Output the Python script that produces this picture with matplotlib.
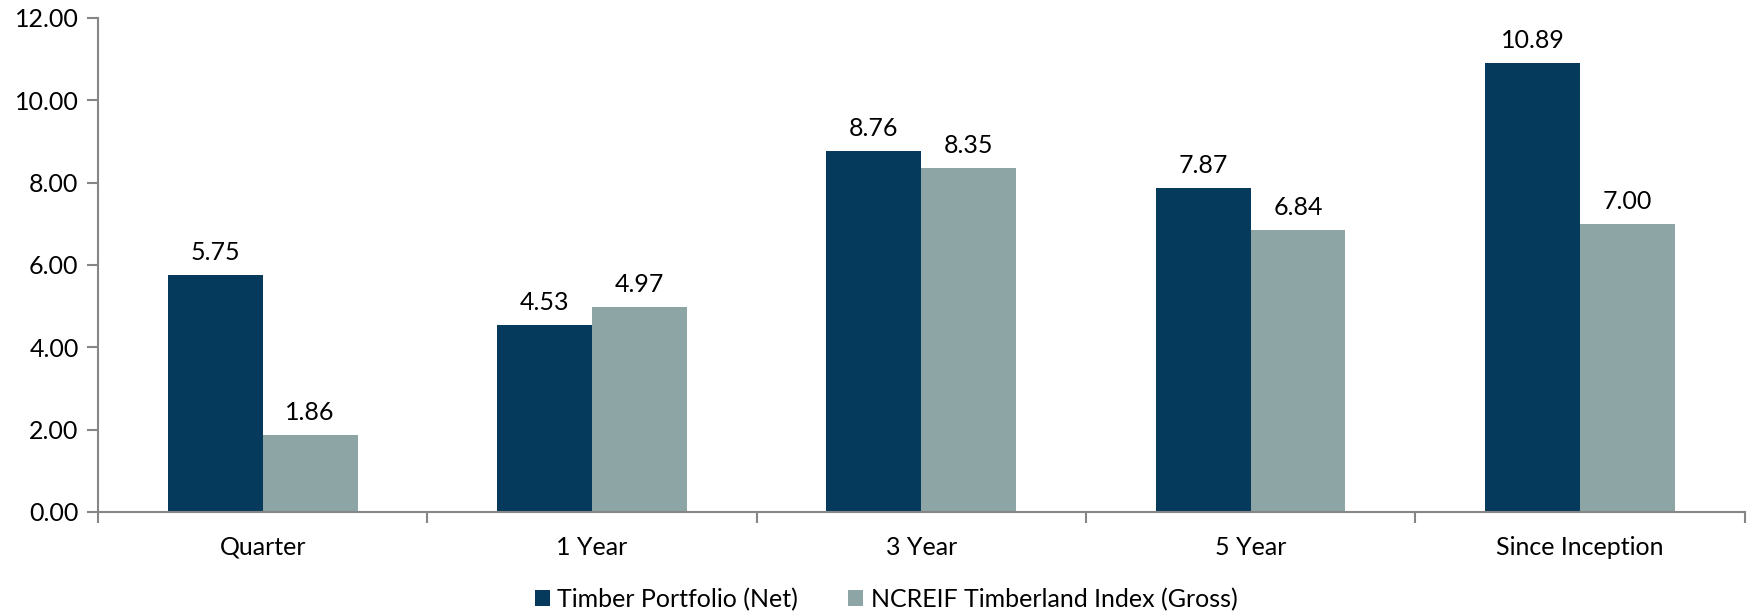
import matplotlib
matplotlib.use('Agg')
from matplotlib import pyplot as plt
from matplotlib.ticker import FormatStrFormatter, FixedLocator
import numpy as np

# Chart data
categories = ['Quarter', '1 Year', '3 Year', '5 Year', 'Since Inception']
portfolio = [5.75, 4.53, 8.76, 7.87, 10.89]
ncreif = [1.86, 4.97, 8.35, 6.84, 7.00]
series_names = ['Timber Portfolio (Net)', 'NCREIF Timberland Index (Gross)']

dark = '#063A5C'
light = '#8DA5A5'
axis_col = '#868686'

plt.rcParams['font.family'] = ['Lato', 'DejaVu Sans']
fs = 18

fig = plt.figure(figsize=(17.48, 6.13), dpi=100)
ax = fig.add_axes([0.0561, 0.1648, 0.9419, 0.8062])

x = np.arange(len(categories))
w = 0.288
b1 = ax.bar(x - w/2, portfolio, w, color=dark, label=series_names[0])
b2 = ax.bar(x + w/2, ncreif, w, color=light, label=series_names[1])

# value labels
for bars, vals in ((b1, portfolio), (b2, ncreif)):
    for r, v in zip(bars, vals):
        ax.annotate('%.2f' % v, (r.get_x() + r.get_width()/2, v),
                    xytext=(0, 8), textcoords='offset points',
                    ha='center', va='bottom', fontsize=fs)

ax.set_xlim(-0.5, len(categories) - 0.5)
ax.set_ylim(0, 12)
ax.set_yticks(np.arange(0, 12.01, 2))
ax.yaxis.set_major_formatter(FormatStrFormatter('%.2f'))

# category labels centered, ticks on boundaries
ax.set_xticks(x)
ax.set_xticklabels(categories)
ax.tick_params(axis='x', which='major', length=0, pad=17, labelsize=fs)
ax.xaxis.set_minor_locator(FixedLocator(np.arange(-0.5, len(categories), 1)))
ax.tick_params(axis='x', which='minor', length=8, color=axis_col, width=1.5)
ax.tick_params(axis='y', length=8, color=axis_col, width=1.5, labelsize=fs, pad=6)

for s in ['top', 'right']:
    ax.spines[s].set_visible(False)
for s in ['left', 'bottom']:
    ax.spines[s].set_color(axis_col)
    ax.spines[s].set_linewidth(1.5)

fig.legend(handles=[b1, b2], loc='center', bbox_to_anchor=(0.507, 0.022),
           ncol=2, frameon=False, fontsize=fs, handlelength=0.6,
           handleheight=0.6, handletextpad=0.3, columnspacing=2.0)

fig.savefig('out.png', dpi=100)
